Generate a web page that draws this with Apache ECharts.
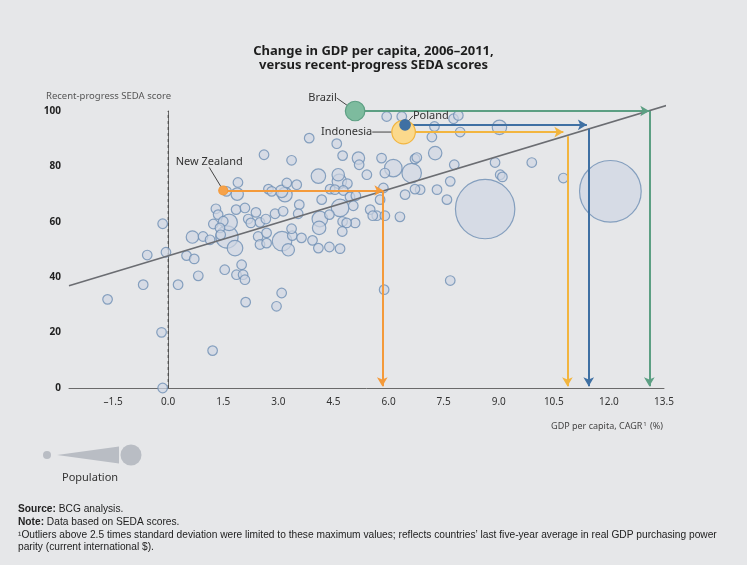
<!DOCTYPE html>
<html style="height: 100%">
<head>
    <meta charset="utf-8">
    <script src="https://cdn.jsdelivr.net/npm/echarts@6/dist/echarts.min.js"></script>
</head>
<body style="height: 100%; margin: 0; background: #e6e7e9">
    <div id="main" style="width: 747px; height: 565px"></div>
    <script type="text/javascript">
        // GDP per capita CAGR (%) / recent-progress SEDA score / population (mn, approx)
        var gdpGrowth = [
            -1.65, -0.68, -0.57, -0.15, -0.18, -0.15, -0.06, 0.27, 0.5, 0.66,
            0.71, 0.82, 0.95, 1.21, 1.3, 1.23, 1.36, 1.9, 1.59, 1.88,
            1.5, 1.66, 1.6, 1.82, 1.41, 1.43, 1.85, 2.09, 2.18, 2.39,
            2.25, 2.5, 2.66, 2.91, 2.45, 2.68, 2.5, 2.68, 1.54, 2.0,
            1.86, 2.04, 2.09, 2.11, 2.95, 3.09, 2.61, 2.73, 2.82, 3.09,
            3.23, 3.5, 3.18, 3.36, 3.84, 4.09, 4.59, 4.75, 5.18, 5.2,
            5.41, 5.81, 5.9, 4.63, 4.88, 4.66, 4.41, 4.54, 4.77, 4.18,
            3.57, 3.13, 3.54, 4.68, 4.95, 5.11, 5.04, 4.13, 4.11, 4.39,
            4.75, 5.09, 4.86, 5.5, 5.68, 5.9, 5.77, 3.1, 3.38, 3.27,
            3.63, 3.93, 4.09, 4.39, 4.68, 4.74, 3.36, 5.88, 7.68, 5.95,
            6.36, 7.77, 7.9, 7.25, 7.95, 7.18, 9.02, 7.27, 7.79, 8.9,
            9.04, 9.1, 9.9, 10.76, 8.63, 12.04, 6.13, 6.63, 6.72, 6.77,
            7.68, 7.32, 6.86, 6.72, 6.45, 7.59, 6.31, 5.57, 5.86, 1.14
        ];
        var sedaScore = [
            32, 37.3, 48, 59.3, 20.1, 0, 49, 37.3, 47.8, 54.5,
            46.6, 40.5, 54.7, 13.5, 64.7, 59.2, 62.6, 74.2, 71, 70,
            60.2, 59.8, 54.5, 50.5, 57.8, 55.3, 64.4, 65, 61, 63.4,
            59.6, 59.8, 61, 62.9, 54.7, 56, 51.8, 52.3, 42.7, 44.5,
            40.9, 40.9, 39.1, 31, 29.5, 34.3, 84.2, 71.8, 71, 71,
            74, 73.4, 69.8, 82.2, 90.2, 76.5, 88.2, 83.9, 83, 80.6,
            77, 83, 77.6, 77, 73.8, 74.6, 71.8, 71.6, 71.3, 68,
            66.2, 63.8, 62.9, 65, 69, 69.4, 65.8, 61, 57.8, 62.6,
            60.1, 59.6, 59.6, 64.4, 62.2, 62.2, 68, 53, 55, 49.9,
            54.2, 53.3, 50.5, 50.9, 50.3, 56.5, 57.5, 35.5, 38.8, 98,
            98, 97.2, 98.4, 94.4, 92.4, 90.6, 94.1, 84.8, 80.6, 81.4,
            77, 76.2, 81.4, 75.8, 64.6, 71, 79.4, 77.6, 82.7, 83.2,
            74.6, 71.6, 71.6, 71.8, 69.8, 68, 61.8, 62.2, 72.2, 53.5
        ];
        var population = [
            2, 2, 2, 2, 2, 2, 2, 2, 2, 11,
            2, 2, 2, 2, 2, 2, 2, 2, 2, 11,
            2, 37, 100, 30, 2, 2, 2, 2, 2, 2,
            2, 2, 2, 2, 2, 2, 2, 2, 2, 2,
            2, 2, 2, 2, 2, 2, 2, 2, 2, 11,
            2, 2, 22, 2, 2, 22, 2, 2, 11, 2,
            2, 2, 2, 11, 2, 22, 2, 2, 2, 2,
            2, 2, 2, 46, 2, 2, 2, 30, 16, 2,
            2, 2, 2, 2, 2, 2, 2, 66, 2, 11,
            2, 2, 2, 2, 2, 2, 2, 2, 2, 2,
            2, 2, 2, 2, 2, 2, 22, 16, 2, 2,
            2, 2, 2, 2, 1230, 1340, 46, 66, 2, 2,
            2, 2, 2, 2, 2, 2, 2, 2, 2, 2
        ];

        // highlighted countries
        var hlNames = ['Brazil', 'Poland', 'Indonesia', 'New Zealand'];
        var hlGrowth = [5.09, 6.45, 6.41, 1.5];
        var hlScore = [100, 95, 92.4, 71.3];
        var hlPop = [66, 4, 117, 1];
        var hlColors = ['#5c9f83', '#3f70a3', '#f2b53f', '#f49a3a'];
        var hlFill = ['#7dbb9e', '#3f70a3', '#fbd98c', '#f6a24a'];
        // where each country's score meets the trend line (arrow tip, vertical drop)
        var hlArrowEnd = [13.1, 11.4, 10.76, 5.86];
        var hlDropX = [13.1, 11.45, 10.87, 5.83];
        var hlDropY = [100, 93.6, 90.9, 71];

        // trend line endpoints
        var trendX = [-2.7, 13.72];
        var trendY = [36.9, 102.6];

        var xTicks = [-1.5, 0, 1.5, 3, 4.5, 6, 7.5, 9, 10.5, 12, 13.5];

        function sizeOf(p) {
            return 7.5 + 1.48 * Math.sqrt(p);
        }

        var bubbles = gdpGrowth.map(function (x, i) {
            return [x, sedaScore[i], population[i]];
        });
        // draw the big ones first
        bubbles.sort(function (a, b) { return b[2] - a[2]; });

        var labelMove = [
            { dx: -3, dy: -13, pos: 'left', z: 6 },
            { dx: -3, dy: -9, pos: 'right', z: 8 },
            { dx: -14, dy: 0, pos: 'left', z: 5 },
            { dx: -14, dy: -13, pos: 'top', z: 6 }
        ];

        var hlSeries = hlNames.map(function (name, i) {
            return {
                name: name,
                type: 'scatter',
                z: labelMove[i].z,
                data: [[hlGrowth[i], hlScore[i], hlPop[i]]],
                symbolSize: function (v) { return sizeOf(v[2]); },
                itemStyle: {
                    color: hlFill[i],
                    borderColor: hlColors[i],
                    borderWidth: 1.2,
                    opacity: 1
                },
                clip: false,
                label: {
                    show: true,
                    formatter: name,
                    position: labelMove[i].pos,
                    color: '#333',
                    fontSize: 11,
                    fontFamily: 'Noto Sans'
                },
                labelLayout: { dx: labelMove[i].dx, dy: labelMove[i].dy },
                labelLine: {
                    show: true,
                    lineStyle: { color: '#444', width: 1 }
                },
                markLine: {
                    silent: true,
                    symbol: ['none', 'arrow'],
                    symbolSize: [8, 9],
                    label: { show: false },
                    lineStyle: { color: hlColors[i], width: 2, type: 'solid' },
                    data: [
                        [{ coord: [hlGrowth[i], hlScore[i]] }, { coord: [hlArrowEnd[i], hlScore[i]] }],
                        [{ coord: [hlDropX[i], hlDropY[i]] }, { coord: [hlDropX[i], 0.6] }]
                    ]
                }
            };
        });

        var chart = echarts.init(document.getElementById('main'));
        var option = {
            backgroundColor: '#e6e7e9',
            animation: false,
            textStyle: { fontFamily: 'Noto Sans' },
            title: {
                text: 'Change in GDP per capita, 2006\u20132011,\nversus recent-progress SEDA scores',
                left: 'center',
                top: 39,
                textStyle: {
                    fontSize: 13,
                    fontWeight: 'bold',
                    color: '#1e1e1e',
                    lineHeight: 14,
                    fontFamily: 'Noto Sans'
                }
            },
            grid: { left: 69, right: 83, top: 111, bottom: 177 },
            xAxis: {
                type: 'value',
                min: -2.7,
                max: 13.5,
                axisLine: { lineStyle: { color: '#6a6a6a', width: 1 } },
                axisTick: { show: false },
                splitLine: { show: false },
                axisLabel: {
                    customValues: xTicks,
                    color: '#333',
                    fontSize: 10,
                    margin: 9,
                    formatter: function (v) {
                        return v < 0 ? '\u2013' + Math.abs(v).toFixed(1) : v.toFixed(1);
                    }
                }
            },
            yAxis: {
                type: 'value',
                min: 0,
                max: 100,
                interval: 20,
                axisLine: { show: true, lineStyle: { color: '#6a6a6a', width: 1 } },
                axisTick: { show: false },
                splitLine: { show: false },
                axisLabel: { color: '#222', fontSize: 10, fontWeight: 'bold', margin: 8 }
            },
            graphic: [
                {
                    type: 'text', left: 46, top: 91,
                    style: { text: 'Recent-progress SEDA score', fill: '#555', fontSize: 9.5, fontFamily: 'Noto Sans' }
                },
                {
                    type: 'text', right: 84, top: 421,
                    style: {
                        text: '{a|GDP per capita, CAGR}{s|1}{a| (%)}',
                        rich: {
                            a: { fill: '#444', fontSize: 9, fontFamily: 'Noto Sans' },
                            s: { fill: '#444', fontSize: 6, fontFamily: 'Noto Sans', verticalAlign: 'top', padding: [0, 1, 5, 1] }
                        }
                    }
                },
                { type: 'circle', shape: { cx: 47, cy: 455, r: 4 }, style: { fill: '#b9bdc4' } },
                { type: 'polygon', shape: { points: [[57, 455], [119, 446.5], [119, 463.5]] }, style: { fill: '#b9bdc4' } },
                { type: 'circle', shape: { cx: 131, cy: 455, r: 10.5 }, style: { fill: '#b9bdc4' } },
                {
                    type: 'text', left: 62, top: 472,
                    style: { text: 'Population', fill: '#333', fontSize: 11, fontFamily: 'Noto Sans' }
                },
                {
                    type: 'text', left: 18, top: 503,
                    style: {
                        text: '{b|Source:} BCG analysis.\n{b|Note:} Data based on SEDA scores.\n' +
                            '\u00b9Outliers above 2.5 times standard deviation were limited to these maximum values; reflects countries\u2019 last five-year average in real GDP purchasing power\nparity (current international $).',
                        fill: '#222',
                        fontSize: 10.2,
                        lineHeight: 12.7,
                        fontFamily: 'Liberation Sans',
                        rich: {
                            b: { fontWeight: 'bold', fontSize: 10.2, fill: '#222', fontFamily: 'Liberation Sans' }
                        }
                    }
                }
            ],
            series: [
                {
                    type: 'scatter',
                    name: 'Countries',
                    z: 3,
                    data: bubbles,
                    symbolSize: function (v) { return sizeOf(v[2]); },
                    itemStyle: {
                        color: 'rgba(206,214,226,0.88)',
                        borderColor: '#6e8fb4',
                        borderWidth: 1.2
                    },
                    clip: false
                },
                {
                    type: 'line',
                    name: 'zero',
                    z: 2,
                    data: [[0, 0], [0, 100]],
                    symbol: 'none',
                    lineStyle: { color: '#444', width: 1, type: [3, 3] }
                },
                {
                    type: 'line',
                    name: 'trend',
                    z: 4,
                    data: [[trendX[0], trendY[0]], [trendX[1], trendY[1]]],
                    symbol: 'none',
                    clip: false,
                    lineStyle: { color: '#6b6d72', width: 1.6 }
                }
            ].concat(hlSeries)
        };
        chart.setOption(option);
    </script>
</body>
</html>
